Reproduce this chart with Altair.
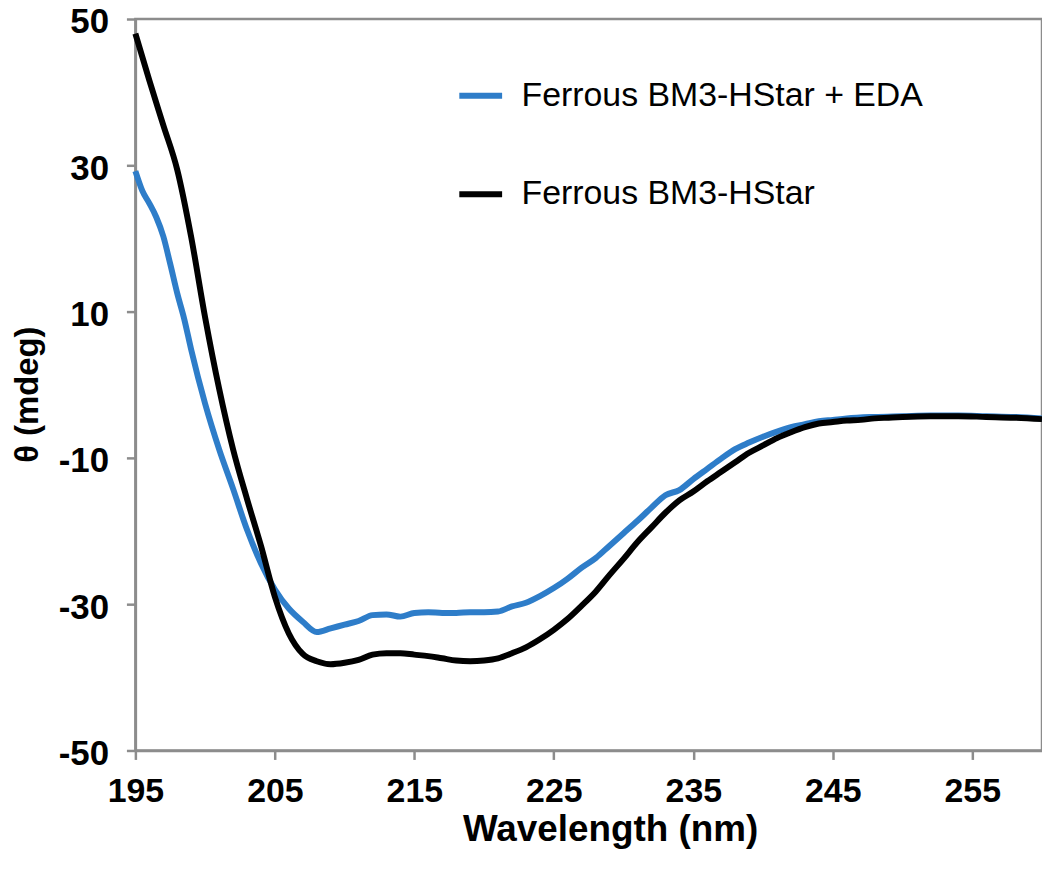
import altair as alt
import pandas as pd

wl_black = [195, 196, 197, 198, 199, 200, 201, 202, 203, 204, 205, 206, 207, 208, 209, 210,
            211, 212, 213, 214, 215, 216, 217, 218, 219, 220, 221, 222, 223, 224, 225, 226,
            227, 228, 229, 230, 231, 232, 233, 234, 235, 236, 237, 238, 239, 240, 241, 242,
            243, 244, 245, 246, 247, 248, 249, 250, 252, 254, 256, 258, 260]
theta_black = [48.0, 41.6, 35.5, 29.4, 20.2, 9.2, -0.5, -8.8, -15.6, -22.0, -29.0, -34.0,
               -36.8, -37.8, -38.2, -38.0, -37.6, -36.9, -36.7, -36.7, -36.9, -37.1, -37.4,
               -37.7, -37.8, -37.7, -37.4, -36.7, -35.9, -34.8, -33.5, -32.0, -30.2, -28.3,
               -26.0, -23.8, -21.5, -19.5, -17.5, -15.8, -14.6, -13.2, -11.9, -10.6, -9.3,
               -8.3, -7.3, -6.5, -5.8, -5.3, -5.1, -4.9, -4.8, -4.6, -4.5, -4.4, -4.3, -4.3,
               -4.4, -4.5, -4.7]

wl_blue = [195, 195.5, 196, 196.5, 197, 197.5, 198, 198.5, 199, 200, 201, 202, 203, 204, 205,
           206, 207, 208, 209, 210, 211, 212, 213, 214, 215, 216, 217, 218, 219, 220, 221,
           222, 223, 224, 225, 226, 227, 228, 229, 230, 231, 232, 233, 234, 235, 236, 237,
           238, 239, 240, 241, 242, 243, 244, 245, 246, 248, 250, 252, 254, 256, 258, 260]
theta_blue = [29.2, 26.5, 24.8, 22.9, 20.3, 16.5, 12.5, 9.0, 4.8, -2.6, -8.8, -14.2, -19.8,
              -24.4, -28.0, -30.6, -32.4, -33.8, -33.3, -32.8, -32.3, -31.5, -31.4, -31.7,
              -31.2, -31.1, -31.2, -31.2, -31.1, -31.1, -31.0, -30.3, -29.8, -28.9, -27.8,
              -26.5, -25.0, -23.7, -22.0, -20.3, -18.6, -16.8, -15.1, -14.4, -12.9, -11.5,
              -10.1, -8.8, -7.9, -7.1, -6.4, -5.8, -5.4, -5.0, -4.8, -4.6, -4.4, -4.3, -4.2,
              -4.2, -4.3, -4.4, -4.6]

name_blue = "Ferrous BM3-HStar + EDA"
name_black = "Ferrous BM3-HStar"

df = pd.concat([
    pd.DataFrame({"wl": wl_blue, "theta": theta_blue, "series": name_blue}),
    pd.DataFrame({"wl": wl_black, "theta": theta_black, "series": name_black}),
])

FONT = "Liberation Sans"
GRAY = "#8c8c8c"
HYPHEN = "replace(datum.label, '\u2212', '-')"

base = alt.Chart(df).mark_line(strokeWidth=6, interpolate="monotone").encode(
    x=alt.X("wl:Q",
            scale=alt.Scale(domain=[195, 260], nice=False, zero=False),
            axis=alt.Axis(title="Wavelength (nm)", values=[195, 205, 215, 225, 235, 245, 255],
                          format="d", labelPadding=15, labelFlush=False, labelFontSize=34,
                          titleX=477, titleY=79, titleBaseline="middle",
                          titleFontSize=37)),
    y=alt.Y("theta:Q",
            scale=alt.Scale(domain=[-50, 50], nice=False),
            axis=alt.Axis(title="θ (mdeg)", values=[-50, -30, -10, 10, 30, 50],
                          labelPadding=18, labelOffset=3, labelFlush=False,
                          labelExpr=HYPHEN,
                          titleX=-108, titleY=377,
                          titleBaseline="middle", titleAlign="center",
                          titleFontSize=33)),
    color=alt.Color("series:N",
                    scale=alt.Scale(domain=[name_blue, name_black],
                                    range=["#2e7dc9", "#000000"]),
                    legend=alt.Legend(title=None, orient="none", legendX=322, legendY=52,
                                      symbolType="stroke", symbolSize=1850,
                                      symbolStrokeWidth=6, labelFontSize=34,
                                      labelFont=FONT, labelOffset=16, rowPadding=57,
                                      padding=0, labelLimit=600)),
)

chart = alt.layer(
    base.transform_filter(alt.datum.series == name_blue),
    base.transform_filter(alt.datum.series == name_black),
).properties(
    width=911, height=735,
    autosize=alt.AutoSizeParams(type="none"),
    padding={"left": 128, "top": 9, "right": 0, "bottom": 110},
).configure_view(
    stroke=GRAY, strokeWidth=2.5
).configure_axis(
    grid=False,
    domainColor=GRAY, domainWidth=2.5,
    tickColor=GRAY, tickWidth=2.5, tickSize=9,
    labelFont=FONT, labelFontSize=35, labelFontWeight="bold", labelColor="black",
    titleFont=FONT, titleFontSize=35, titleFontWeight="bold", titleColor="black",
)

chart.save("out.html", embed_options={"renderer": "svg", "actions": False})
